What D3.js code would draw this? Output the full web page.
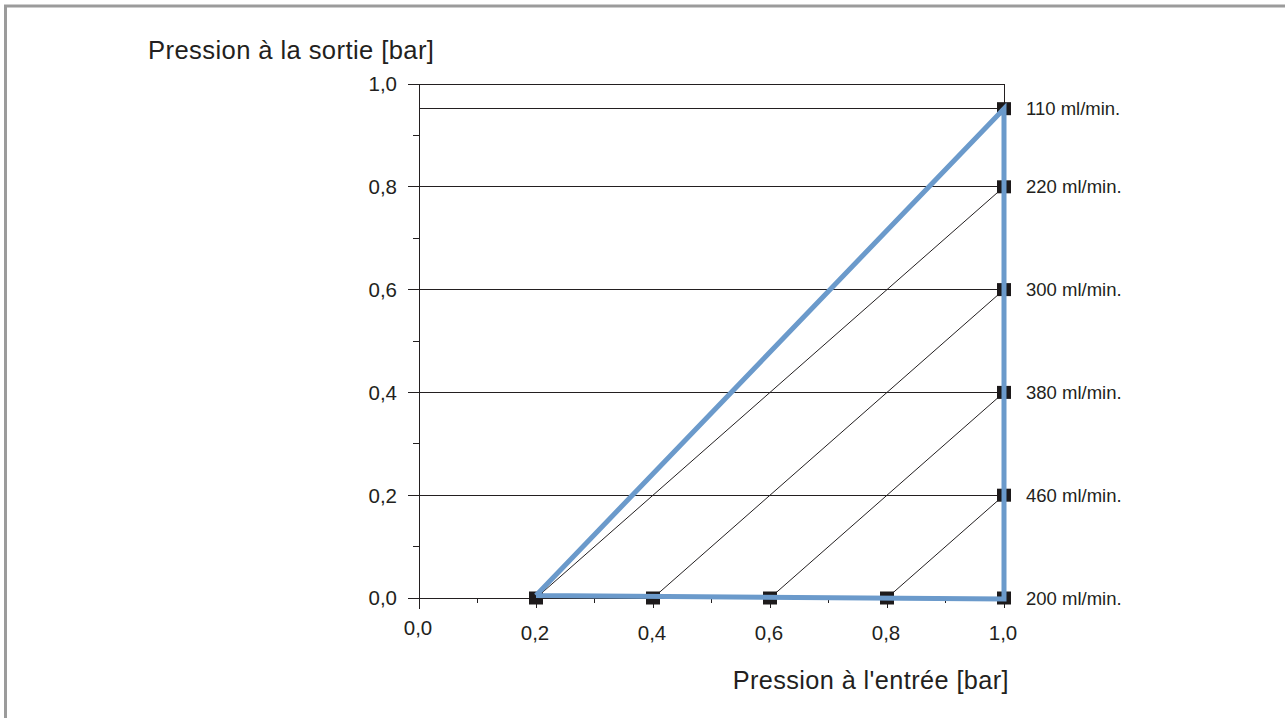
<!DOCTYPE html>
<html><head><meta charset="utf-8">
<script src="https://cdn.jsdelivr.net/npm/d3@7"></script>
<style>body{margin:0;background:#fff;} svg{display:block;} text{font-family:"Liberation Sans",Arial,Helvetica,sans-serif;fill:#231f20;}</style>
</head><body><svg id="c" width="1285" height="718"></svg>
<script>
// data
const majorTicks = [0, 0.2, 0.4, 0.6, 0.8, 1.0];
const minorTicks = [0.1, 0.3, 0.5, 0.7, 0.9];
const tickLabels = ["0,0", "0,2", "0,4", "0,6", "0,8", "1,0"];
const flowLabels = ["110 ml/min.", "220 ml/min.", "300 ml/min.", "380 ml/min.", "460 ml/min.", "200 ml/min."];
const flowOutlet = [0.952, 0.8, 0.6, 0.4, 0.2, 0.0];
const bottomInlet = [0.2, 0.4, 0.6, 0.8, 1.0];
const rightOutlet = [0.2, 0.4, 0.6, 0.8, 0.952];
const diagStart = [0.2, 0.4, 0.6, 0.8];
const diagEndOutlet = [0.8, 0.6, 0.4, 0.2];
const envelopeInlet = [0.2, 1.0, 1.0, 0.2];
const envelopeOutlet = [0.005, 0.952, -0.002, 0.005];

const svg = d3.select("#c");
const x = d3.scaleLinear().domain([0, 1]).range([419, 1004]);
const y = d3.scaleLinear().domain([0, 1]).range([598, 84]);

// frame
svg.append("path").attr("d", "M5.5,718 V6 H1285").attr("fill", "none").attr("stroke", "#9b9b9b").attr("stroke-width", 3);

const g = svg.append("g");
g.selectAll("line.grid").data(majorTicks).join("line")
  .attr("x1", x(0) - 11).attr("x2", x(1)).attr("y1", d => y(d)).attr("y2", d => y(d))
  .attr("stroke", "#231f20").attr("stroke-width", 1).attr("shape-rendering", "crispEdges");
g.append("line").attr("x1", x(0)).attr("x2", x(1)).attr("y1", y(flowOutlet[0])).attr("y2", y(flowOutlet[0]))
  .attr("stroke", "#231f20").attr("stroke-width", 1).attr("shape-rendering", "crispEdges");
g.selectAll("line.ym").data(minorTicks).join("line")
  .attr("x1", x(0) - 6).attr("x2", x(0)).attr("y1", d => y(d)).attr("y2", d => y(d))
  .attr("stroke", "#231f20").attr("shape-rendering", "crispEdges");
g.append("line").attr("x1", x(0)).attr("x2", x(0)).attr("y1", y(1)).attr("y2", y(0) + 11)
  .attr("stroke", "#231f20").attr("shape-rendering", "crispEdges");
g.append("line").attr("x1", x(1)).attr("x2", x(1)).attr("y1", y(1)).attr("y2", y(0) + 10)
  .attr("stroke", "#231f20").attr("shape-rendering", "crispEdges");
g.selectAll("line.xM").data(majorTicks).join("line")
  .attr("x1", d => x(d)).attr("x2", d => x(d)).attr("y1", y(0)).attr("y2", y(0) + 10)
  .attr("stroke", "#231f20").attr("shape-rendering", "crispEdges");
g.selectAll("line.xm").data(minorTicks).join("line")
  .attr("x1", d => x(d)).attr("x2", d => x(d)).attr("y1", y(0)).attr("y2", y(0) + 5)
  .attr("stroke", "#231f20").attr("shape-rendering", "crispEdges");

g.selectAll("line.diag").data(diagStart).join("line")
  .attr("x1", d => x(d)).attr("y1", y(0))
  .attr("x2", x(1)).attr("y2", (d, i) => y(diagEndOutlet[i]))
  .attr("stroke", "#231f20").attr("stroke-width", 1);

const pts = bottomInlet.map(v => [v, 0]).concat(rightOutlet.map(v => [1, v]));
g.selectAll("rect.m").data(pts).join("rect")
  .attr("x", d => x(d[0]) - 7).attr("y", d => y(d[1]) - 6.5)
  .attr("width", 14).attr("height", 13).attr("fill", "#1d1a1b");

const env = envelopeInlet.map((v, i) => [v, envelopeOutlet[i]]);
g.append("path").attr("d", d3.line().x(d => x(d[0])).y(d => y(d[1]))(env))
  .attr("fill", "none").attr("stroke", "#6b9acb").attr("stroke-width", 5).attr("stroke-linejoin", "miter");

g.selectAll("text.yl").data(majorTicks).join("text")
  .attr("x", 397).attr("y", d => y(d)).attr("dy", "0.36em").attr("text-anchor", "end")
  .attr("font-size", 20.5).text((d, i) => tickLabels[i]);
g.selectAll("text.xl").data(majorTicks).join("text")
  .attr("x", d => x(d) - 1).attr("y", (d, i) => i === 0 ? 635 : 640).attr("text-anchor", "middle")
  .attr("font-size", 20.5).text((d, i) => tickLabels[i]);
g.selectAll("text.fl").data(flowLabels).join("text")
  .attr("x", 1026).attr("y", (d, i) => y(flowOutlet[i])).attr("dy", "0.36em")
  .attr("font-size", 18.5).text(d => d);

svg.append("text").attr("x", 148).attr("y", 59).attr("font-size", 25.6).attr("letter-spacing", 0.4).text("Pression à la sortie [bar]");
svg.append("text").attr("x", 1009).attr("y", 689).attr("text-anchor", "end").attr("font-size", 25.3).attr("letter-spacing", 0.4).text("Pression à l'entrée [bar]");
</script></body></html>
